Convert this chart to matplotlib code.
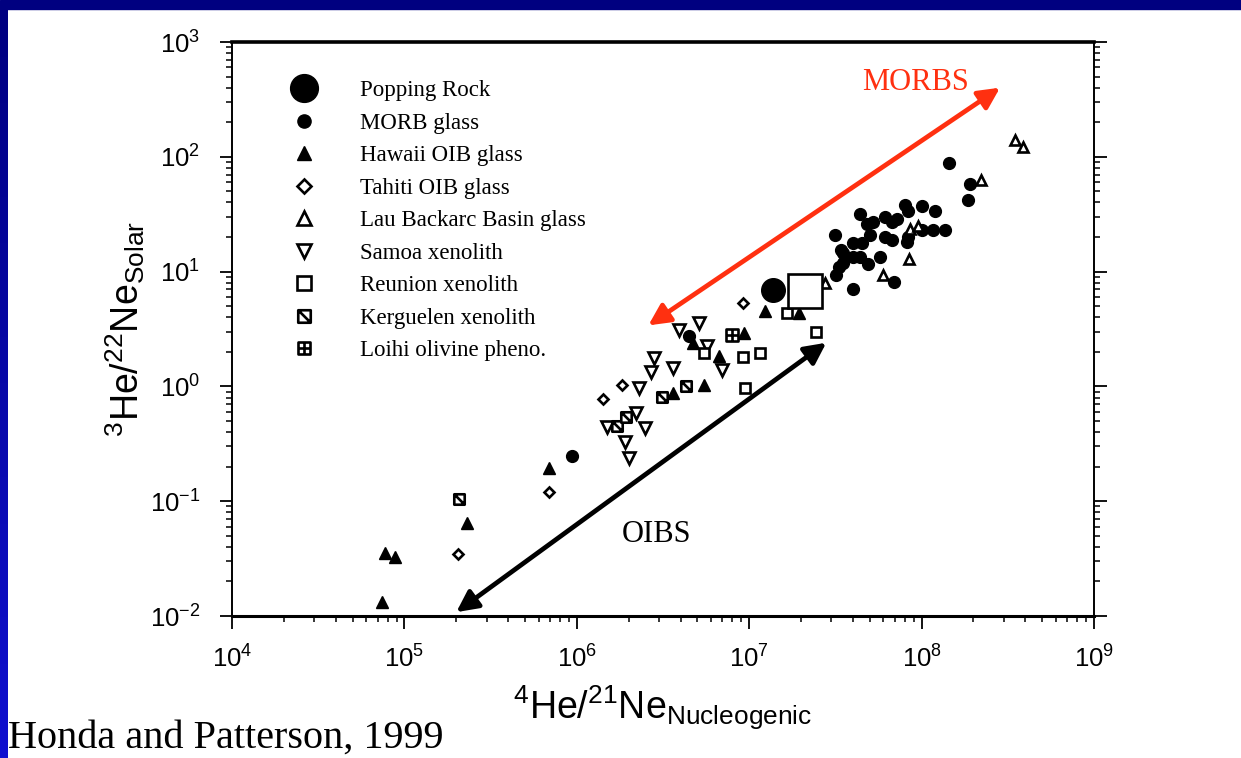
import numpy as np
import matplotlib.pyplot as plt
from matplotlib.lines import Line2D
from matplotlib.path import Path
from matplotlib.patches import Rectangle
from matplotlib.colors import LinearSegmentedColormap

plt.rcParams['font.family'] = ['Liberation Sans', 'DejaVu Sans']
plt.rcParams['mathtext.default'] = 'regular'
plt.rcParams['axes.unicode_minus'] = False

# 4He/21Ne (nucleogenic) vs 3He/22Ne (solar)
popping_x = [1.37e7]
popping_y = [6.9]

morb_x = [9.4e5, 4.5e6, 3.3e7, 4.0e7, 4.4e7, 3.15e7, 4.8e7, 5.2e7, 6.1e7, 6.7e7,
          8.0e7, 8.3e7, 1.0e8, 1.2e8, 5.0e7, 6.1e7, 6.7e7, 4.0e7, 4.5e7, 3.5e7,
          4.0e7, 4.4e7, 3.2e7, 4.9e7, 5.7e7, 6.9e7, 8.2e7, 8.3e7, 1.0e8, 1.16e8,
          1.37e8, 7.2e7, 1.45e8, 1.9e8, 1.86e8, 3.5e7, 3.4e7]
morb_y = [0.25, 2.75, 11, 7.0, 32, 21, 26, 27, 30, 27,
          38, 34, 37, 34, 21, 20, 19, 17.7, 17.7, 14.5,
          13.4, 13.4, 9.3, 11.6, 13.4, 8.1, 18, 20, 23, 23,
          23, 29, 88, 58, 42, 12, 15.5]

hawaii_x = [7.4e4, 7.7e4, 8.8e4, 2.3e5, 6.9e5, 3.6e6, 5.5e6, 4.7e6, 6.7e6, 9.3e6, 1.24e7, 1.95e7]
hawaii_y = [0.0132, 0.0354, 0.0327, 0.065, 0.195, 0.87, 1.03, 2.4, 1.85, 2.9, 4.5, 4.4]

tahiti_x = [2.05e5, 6.9e5, 1.42e6, 1.83e6, 9.2e6]
tahiti_y = [0.0347, 0.12, 0.78, 1.03, 5.3]

lau_x = [2.75e7, 8.6e7, 9.5e7, 8.5e7, 6.0e7, 2.2e8, 3.5e8, 3.9e8]
lau_y = [8.0, 23.5, 25, 13, 9.3, 63, 140, 122]

samoa_x = [1.5e6, 2.2e6, 2.5e6, 1.9e6, 2.0e6, 2.3e6, 2.8e6, 2.7e6, 3.6e6, 3.9e6, 5.1e6, 5.7e6, 7.0e6]
samoa_y = [0.44, 0.59, 0.43, 0.33, 0.24, 0.97, 1.75, 1.33, 1.44, 3.1, 3.55, 2.25, 1.4]

reunion_x = [5.5e6, 9.2e6, 1.16e7, 9.5e6, 1.66e7, 2.45e7]
reunion_y = [1.95, 1.8, 1.95, 0.97, 4.4, 3.0]
reunion_big_x = [2.1e7]
reunion_big_y = [6.8]

kerguelen_x = [2.07e5, 1.7e6, 1.93e6, 3.1e6, 4.3e6]
kerguelen_y = [0.105, 0.45, 0.54, 0.81, 1.0]

loihi_x = [7.9e6]
loihi_y = [2.8]

# trend arrows (tail, head) and their labels
morbs_arrow = [(2.6e6, 3.4), (2.85e8, 400)]
oibs_arrow = [(2.0e5, 0.0108), (2.8e7, 2.4)]
morbs_label = (9.2e7, 440)
oibs_label = (2.9e6, 0.051)

# custom markers: square with diagonal, square with cross
M, L, C = Path.MOVETO, Path.LINETO, Path.CLOSEPOLY
sq = [(-1, -1), (1, -1), (1, 1), (-1, 1), (-1, -1)]
kerg_marker = Path(sq + [(-1, 1), (1, -1)], [M, L, L, L, C, M, L])
loihi_marker = Path(sq + [(0, -1), (0, 1), (-1, 0), (1, 0)], [M, L, L, L, C, M, L, M, L])

fig = plt.figure(figsize=(12.41, 7.58), dpi=100)
ax = fig.add_axes([232 / 1241, 1 - 616 / 758, 862 / 1241, 574 / 758])

open_kw = dict(linestyle='none', mfc='white', mec='black', mew=1.9)
fill_kw = dict(linestyle='none', color='black')

ax.plot(morb_x, morb_y, 'o', ms=8.5, **fill_kw)
ax.plot(hawaii_x, hawaii_y, '^', ms=8.5, **fill_kw)
ax.plot(tahiti_x, tahiti_y, 'D', ms=5.5, **open_kw)
ax.plot(lau_x, lau_y, '^', ms=7.5, **open_kw)
ax.plot(samoa_x, samoa_y, 'v', ms=8, **open_kw)
ax.plot(reunion_x, reunion_y, 's', ms=7, **open_kw)
ax.plot(kerguelen_x, kerguelen_y, marker=kerg_marker, ms=7.5, **open_kw)
ax.plot(loihi_x, loihi_y, marker=loihi_marker, ms=8, **open_kw)
ax.plot(popping_x, popping_y, 'o', ms=17, zorder=4, **fill_kw)
ax.plot(reunion_big_x, reunion_big_y, 's', ms=25, zorder=4, **open_kw)

red = '#ff3010'
ax.annotate('', xy=morbs_arrow[0], xytext=morbs_arrow[1],
            arrowprops=dict(arrowstyle='<|-|>', color=red, lw=3.4,
                            mutation_scale=32, shrinkA=0, shrinkB=0))
ax.annotate('', xy=oibs_arrow[0], xytext=oibs_arrow[1],
            arrowprops=dict(arrowstyle='<|-|>', color='black', lw=3.4,
                            mutation_scale=32, shrinkA=0, shrinkB=0))
ax.text(*morbs_label, 'MORBS', color=red, fontsize=22, family='Liberation Serif',
        ha='center', va='center')
ax.text(*oibs_label, 'OIBS', color='black', fontsize=22, family='Liberation Serif',
        ha='center', va='center')

ax.set_xscale('log')
ax.set_yscale('log')
ax.set_xlim(1e4, 1e9)
ax.set_ylim(1e-2, 1e3)

ax.tick_params(which='both', direction='out', top=False, right=True, labelright=False)
ax.tick_params(which='major', length=9, width=1.3, labelsize=18.5, pad=12)
ax.tick_params(axis='y', which='major', pad=14)
ax.tick_params(which='minor', length=4.5, width=1.1)
ax.spines['top'].set_linewidth(2.6)
ax.spines['bottom'].set_linewidth(2.2)
ax.spines['left'].set_linewidth(1.4)
ax.spines['right'].set_linewidth(1.4)

ax.set_xlabel(r'$^{4}$He/$^{21}$Ne$_{Nucleogenic}$', fontsize=27, labelpad=8)
ax.set_ylabel(r'$^{3}$He/$^{22}$Ne$_{Solar}$', fontsize=27, labelpad=2)

# legend
handles = [
    Line2D([], [], marker='o', ms=20, **fill_kw),
    Line2D([], [], marker='o', ms=9.5, **fill_kw),
    Line2D([], [], marker='^', ms=9.5, **fill_kw),
    Line2D([], [], marker='D', ms=7, **open_kw),
    Line2D([], [], marker='^', ms=9.5, **open_kw),
    Line2D([], [], marker='v', ms=9.5, **open_kw),
    Line2D([], [], marker='s', ms=9.5, **open_kw),
    Line2D([], [], marker=kerg_marker, ms=9, **open_kw),
    Line2D([], [], marker=loihi_marker, ms=9, **open_kw),
]
labels = ['Popping Rock', 'MORB glass', 'Hawaii OIB glass', 'Tahiti OIB glass',
          'Lau Backarc Basin glass', 'Samoa xenolith', 'Reunion xenolith',
          'Kerguelen xenolith', 'Loihi olivine pheno.']
ax.legend(handles, labels, loc='upper left', bbox_to_anchor=(0.057, 0.933),
          frameon=False, borderpad=0, borderaxespad=0, handlelength=2.0,
          handletextpad=1.45, labelspacing=0.5,
          prop=dict(family='Liberation Serif', size=16.5))

# slide frame
fig.patches.append(Rectangle((0, 1 - 9 / 758), 1, 9 / 758, transform=fig.transFigure,
                             color='#000080', zorder=0))
band = fig.add_axes([0, 0, 8 / 1241, 1 - 9 / 758])
band.imshow(np.linspace(0, 1, 256)[:, None], aspect='auto', origin='upper',
            cmap=LinearSegmentedColormap.from_list('band', ['#000080', '#1010d0']))
band.axis('off')

fig.text(8 / 1241, 1 - 738 / 758, 'Honda and Patterson, 1999', fontsize=29,
         family='Liberation Serif', va='center', ha='left')

fig.savefig('out.png', dpi=100)
